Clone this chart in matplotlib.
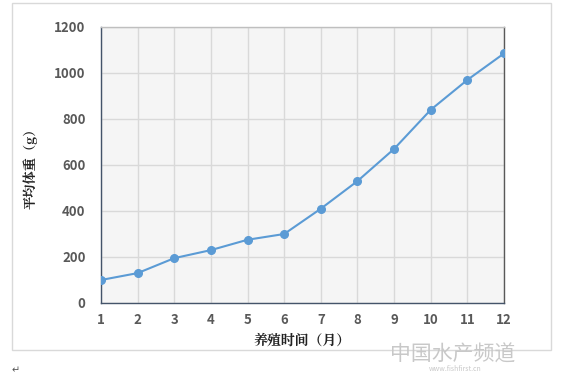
import matplotlib.pyplot as plt
from matplotlib.patches import Rectangle

plt.rcParams['font.family'] = ['Noto Sans CJK SC', 'DejaVu Sans']

months = [1, 2, 3, 4, 5, 6, 7, 8, 9, 10, 11, 12]
weight = [100, 130, 195, 230, 275, 300, 410, 530, 670, 840, 970, 1085]
y_ticks = [0, 200, 400, 600, 800, 1000, 1200]

fig = plt.figure(figsize=(5.69, 3.75), dpi=100)
fig.patch.set_facecolor('white')

# outer chart frame
fig.add_artist(Rectangle((12 / 569, 1 - 350 / 375), 539 / 569, 347 / 375,
                         transform=fig.transFigure, fill=False,
                         edgecolor='#d9d9d9', linewidth=1))

ax = fig.add_axes([101 / 569, 1 - 303 / 375, 403 / 569, 276 / 375])
ax.set_facecolor('#f5f5f5')
ax.plot(months, weight, color='#5b9bd5', linewidth=1.5, marker='o',
        markersize=5.5, zorder=3)

ax.set_xlim(1, 12)
ax.set_ylim(0, 1200)
ax.set_xticks(months)
ax.set_yticks(y_ticks)
ax.grid(True, color='#d9d9d9', linewidth=1)
ax.set_axisbelow(True)
for side in ['left', 'bottom', 'right', 'top']:
    ax.spines[side].set_color('#595959')
    ax.spines[side].set_linewidth(1)
ax.spines['left'].set_color('#44546a')
ax.spines['bottom'].set_color('#44546a')
ax.spines['top'].set_color('#bfbfbf')
ax.tick_params(length=0, labelsize=9.5, colors='#595959')
ax.tick_params(axis='x', pad=7)
ax.tick_params(axis='y', pad=11)
for lbl in ax.get_xticklabels() + ax.get_yticklabels():
    lbl.set_fontweight('bold')

ax.set_xlabel('养殖时间（月）', fontsize=10, fontweight='bold', color='#222222',
              family=['Noto Serif CJK SC', 'Noto Sans CJK SC', 'DejaVu Sans'], labelpad=4)
ax.set_ylabel('平均体重（g）', fontsize=9.5, fontweight='bold', color='#222222',
              family=['Noto Serif CJK SC', 'Noto Sans CJK SC', 'DejaVu Sans'], labelpad=12)

# watermark
fig.text(0.795, 0.055, '中国水产频道', fontsize=15, color='#c8c8c8',
         style='italic', ha='center', va='center')
fig.text(0.80, 0.017, 'www.fishfirst.cn', fontsize=5, color='#c8c8c8',
         ha='center', va='center')
fig.text(0.02, 0.005, '↵', fontsize=7, color='#555555', family=['DejaVu Sans'])

fig.savefig('out.png', dpi=100)
